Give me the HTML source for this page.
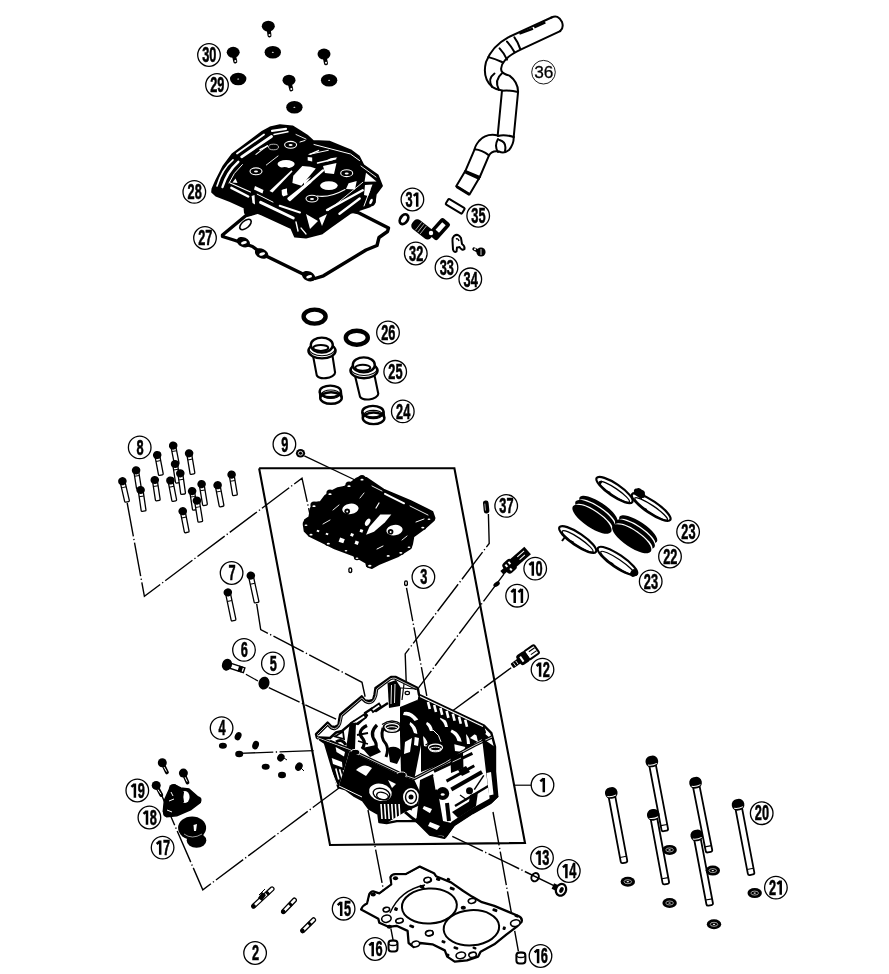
<!DOCTYPE html>
<html><head><meta charset="utf-8"><style>
html,body{margin:0;padding:0;background:#fff;width:889px;height:974px;overflow:hidden}
svg{display:block;filter:grayscale(1)}
</style></head><body>
<svg width="889" height="974" viewBox="0 0 889 974">
<circle cx="209" cy="55" r="11.3" fill="#fff" stroke="#000" stroke-width="1.3"/>
<text x="0" y="0" transform="translate(205.70,62.2) scale(0.6,1)" text-anchor="middle" font-family="Liberation Sans" font-weight="bold" font-size="21.3" stroke="#000" stroke-width="0.55">3</text>
<text x="0" y="0" transform="translate(212.90,62.2) scale(0.6,1)" text-anchor="middle" font-family="Liberation Sans" font-weight="bold" font-size="21.3" stroke="#000" stroke-width="0.55">0</text>
<circle cx="217" cy="85" r="11.3" fill="#fff" stroke="#000" stroke-width="1.3"/>
<text x="0" y="0" transform="translate(213.70,92.2) scale(0.6,1)" text-anchor="middle" font-family="Liberation Sans" font-weight="bold" font-size="21.3" stroke="#000" stroke-width="0.55">2</text>
<text x="0" y="0" transform="translate(220.90,92.2) scale(0.6,1)" text-anchor="middle" font-family="Liberation Sans" font-weight="bold" font-size="21.3" stroke="#000" stroke-width="0.55">9</text>
<circle cx="194.3" cy="191.9" r="11.3" fill="#fff" stroke="#000" stroke-width="1.3"/>
<text x="0" y="0" transform="translate(191.00,199.1) scale(0.6,1)" text-anchor="middle" font-family="Liberation Sans" font-weight="bold" font-size="21.3" stroke="#000" stroke-width="0.55">2</text>
<text x="0" y="0" transform="translate(198.20,199.1) scale(0.6,1)" text-anchor="middle" font-family="Liberation Sans" font-weight="bold" font-size="21.3" stroke="#000" stroke-width="0.55">8</text>
<circle cx="205" cy="238" r="11.3" fill="#fff" stroke="#000" stroke-width="1.3"/>
<text x="0" y="0" transform="translate(201.70,245.2) scale(0.6,1)" text-anchor="middle" font-family="Liberation Sans" font-weight="bold" font-size="21.3" stroke="#000" stroke-width="0.55">2</text>
<text x="0" y="0" transform="translate(208.90,245.2) scale(0.6,1)" text-anchor="middle" font-family="Liberation Sans" font-weight="bold" font-size="21.3" stroke="#000" stroke-width="0.55">7</text>
<circle cx="412.4" cy="199.5" r="11.3" fill="#fff" stroke="#000" stroke-width="1.3"/>
<text x="0" y="0" transform="translate(409.10,206.7) scale(0.6,1)" text-anchor="middle" font-family="Liberation Sans" font-weight="bold" font-size="21.3" stroke="#000" stroke-width="0.55">3</text>
<path d="M417.20,192.50 L417.20,206.70 M413.70,195.90 L416.90,193.10" fill="none" stroke="#000" stroke-width="2.5" stroke-linecap="butt"/>
<circle cx="415.8" cy="253.5" r="11.3" fill="#fff" stroke="#000" stroke-width="1.3"/>
<text x="0" y="0" transform="translate(412.50,260.7) scale(0.6,1)" text-anchor="middle" font-family="Liberation Sans" font-weight="bold" font-size="21.3" stroke="#000" stroke-width="0.55">3</text>
<text x="0" y="0" transform="translate(419.70,260.7) scale(0.6,1)" text-anchor="middle" font-family="Liberation Sans" font-weight="bold" font-size="21.3" stroke="#000" stroke-width="0.55">2</text>
<circle cx="446.5" cy="267.5" r="11.3" fill="#fff" stroke="#000" stroke-width="1.3"/>
<text x="0" y="0" transform="translate(443.20,274.7) scale(0.6,1)" text-anchor="middle" font-family="Liberation Sans" font-weight="bold" font-size="21.3" stroke="#000" stroke-width="0.55">3</text>
<text x="0" y="0" transform="translate(450.40,274.7) scale(0.6,1)" text-anchor="middle" font-family="Liberation Sans" font-weight="bold" font-size="21.3" stroke="#000" stroke-width="0.55">3</text>
<circle cx="470.3" cy="279.3" r="11.3" fill="#fff" stroke="#000" stroke-width="1.3"/>
<text x="0" y="0" transform="translate(467.00,286.5) scale(0.6,1)" text-anchor="middle" font-family="Liberation Sans" font-weight="bold" font-size="21.3" stroke="#000" stroke-width="0.55">3</text>
<text x="0" y="0" transform="translate(474.20,286.5) scale(0.6,1)" text-anchor="middle" font-family="Liberation Sans" font-weight="bold" font-size="21.3" stroke="#000" stroke-width="0.55">4</text>
<circle cx="478.2" cy="215.8" r="11.3" fill="#fff" stroke="#000" stroke-width="1.3"/>
<text x="0" y="0" transform="translate(474.90,223.0) scale(0.6,1)" text-anchor="middle" font-family="Liberation Sans" font-weight="bold" font-size="21.3" stroke="#000" stroke-width="0.55">3</text>
<text x="0" y="0" transform="translate(482.10,223.0) scale(0.6,1)" text-anchor="middle" font-family="Liberation Sans" font-weight="bold" font-size="21.3" stroke="#000" stroke-width="0.55">5</text>
<circle cx="388" cy="332.5" r="11.3" fill="#fff" stroke="#000" stroke-width="1.3"/>
<text x="0" y="0" transform="translate(384.70,339.7) scale(0.6,1)" text-anchor="middle" font-family="Liberation Sans" font-weight="bold" font-size="21.3" stroke="#000" stroke-width="0.55">2</text>
<text x="0" y="0" transform="translate(391.90,339.7) scale(0.6,1)" text-anchor="middle" font-family="Liberation Sans" font-weight="bold" font-size="21.3" stroke="#000" stroke-width="0.55">6</text>
<circle cx="395.2" cy="371.8" r="11.3" fill="#fff" stroke="#000" stroke-width="1.3"/>
<text x="0" y="0" transform="translate(391.90,379.0) scale(0.6,1)" text-anchor="middle" font-family="Liberation Sans" font-weight="bold" font-size="21.3" stroke="#000" stroke-width="0.55">2</text>
<text x="0" y="0" transform="translate(399.10,379.0) scale(0.6,1)" text-anchor="middle" font-family="Liberation Sans" font-weight="bold" font-size="21.3" stroke="#000" stroke-width="0.55">5</text>
<circle cx="402.8" cy="411.4" r="11.3" fill="#fff" stroke="#000" stroke-width="1.3"/>
<text x="0" y="0" transform="translate(399.50,418.6) scale(0.6,1)" text-anchor="middle" font-family="Liberation Sans" font-weight="bold" font-size="21.3" stroke="#000" stroke-width="0.55">2</text>
<text x="0" y="0" transform="translate(406.70,418.6) scale(0.6,1)" text-anchor="middle" font-family="Liberation Sans" font-weight="bold" font-size="21.3" stroke="#000" stroke-width="0.55">4</text>
<circle cx="139.7" cy="447.4" r="11.3" fill="#fff" stroke="#000" stroke-width="1.3"/>
<text x="0" y="0" transform="translate(140.10,454.6) scale(0.6,1)" text-anchor="middle" font-family="Liberation Sans" font-weight="bold" font-size="21.3" stroke="#000" stroke-width="0.55">8</text>
<circle cx="284.4" cy="444.3" r="11.3" fill="#fff" stroke="#000" stroke-width="1.3"/>
<text x="0" y="0" transform="translate(284.80,451.5) scale(0.6,1)" text-anchor="middle" font-family="Liberation Sans" font-weight="bold" font-size="21.3" stroke="#000" stroke-width="0.55">9</text>
<circle cx="506.2" cy="505.9" r="11.3" fill="#fff" stroke="#000" stroke-width="1.3"/>
<text x="0" y="0" transform="translate(502.90,513.1) scale(0.6,1)" text-anchor="middle" font-family="Liberation Sans" font-weight="bold" font-size="21.3" stroke="#000" stroke-width="0.55">3</text>
<text x="0" y="0" transform="translate(510.10,513.1) scale(0.6,1)" text-anchor="middle" font-family="Liberation Sans" font-weight="bold" font-size="21.3" stroke="#000" stroke-width="0.55">7</text>
<circle cx="688.1" cy="531.7" r="11.3" fill="#fff" stroke="#000" stroke-width="1.3"/>
<text x="0" y="0" transform="translate(684.80,538.9) scale(0.6,1)" text-anchor="middle" font-family="Liberation Sans" font-weight="bold" font-size="21.3" stroke="#000" stroke-width="0.55">2</text>
<text x="0" y="0" transform="translate(692.00,538.9) scale(0.6,1)" text-anchor="middle" font-family="Liberation Sans" font-weight="bold" font-size="21.3" stroke="#000" stroke-width="0.55">3</text>
<circle cx="670" cy="556.5" r="11.3" fill="#fff" stroke="#000" stroke-width="1.3"/>
<text x="0" y="0" transform="translate(666.70,563.7) scale(0.6,1)" text-anchor="middle" font-family="Liberation Sans" font-weight="bold" font-size="21.3" stroke="#000" stroke-width="0.55">2</text>
<text x="0" y="0" transform="translate(673.90,563.7) scale(0.6,1)" text-anchor="middle" font-family="Liberation Sans" font-weight="bold" font-size="21.3" stroke="#000" stroke-width="0.55">2</text>
<circle cx="650.7" cy="581.4" r="11.3" fill="#fff" stroke="#000" stroke-width="1.3"/>
<text x="0" y="0" transform="translate(647.40,588.6) scale(0.6,1)" text-anchor="middle" font-family="Liberation Sans" font-weight="bold" font-size="21.3" stroke="#000" stroke-width="0.55">2</text>
<text x="0" y="0" transform="translate(654.60,588.6) scale(0.6,1)" text-anchor="middle" font-family="Liberation Sans" font-weight="bold" font-size="21.3" stroke="#000" stroke-width="0.55">3</text>
<circle cx="535.2" cy="568.6" r="11.3" fill="#fff" stroke="#000" stroke-width="1.3"/>
<path d="M532.80,561.60 L532.80,575.80 M529.30,565.00 L532.50,562.20" fill="none" stroke="#000" stroke-width="2.5" stroke-linecap="butt"/>
<text x="0" y="0" transform="translate(539.10,575.8) scale(0.6,1)" text-anchor="middle" font-family="Liberation Sans" font-weight="bold" font-size="21.3" stroke="#000" stroke-width="0.55">0</text>
<circle cx="517.1" cy="595.7" r="11.3" fill="#fff" stroke="#000" stroke-width="1.3"/>
<path d="M514.70,588.70 L514.70,602.90 M511.20,592.10 L514.40,589.30" fill="none" stroke="#000" stroke-width="2.5" stroke-linecap="butt"/>
<path d="M521.90,588.70 L521.90,602.90 M518.40,592.10 L521.60,589.30" fill="none" stroke="#000" stroke-width="2.5" stroke-linecap="butt"/>
<circle cx="231.6" cy="573" r="11.3" fill="#fff" stroke="#000" stroke-width="1.3"/>
<text x="0" y="0" transform="translate(232.00,580.2) scale(0.6,1)" text-anchor="middle" font-family="Liberation Sans" font-weight="bold" font-size="21.3" stroke="#000" stroke-width="0.55">7</text>
<circle cx="423.4" cy="577" r="11.3" fill="#fff" stroke="#000" stroke-width="1.3"/>
<text x="0" y="0" transform="translate(423.80,584.2) scale(0.6,1)" text-anchor="middle" font-family="Liberation Sans" font-weight="bold" font-size="21.3" stroke="#000" stroke-width="0.55">3</text>
<circle cx="542.5" cy="669.6" r="11.3" fill="#fff" stroke="#000" stroke-width="1.3"/>
<path d="M540.10,662.60 L540.10,676.80 M536.60,666.00 L539.80,663.20" fill="none" stroke="#000" stroke-width="2.5" stroke-linecap="butt"/>
<text x="0" y="0" transform="translate(546.40,676.8) scale(0.6,1)" text-anchor="middle" font-family="Liberation Sans" font-weight="bold" font-size="21.3" stroke="#000" stroke-width="0.55">2</text>
<circle cx="244" cy="649.9" r="11.3" fill="#fff" stroke="#000" stroke-width="1.3"/>
<text x="0" y="0" transform="translate(244.40,657.1) scale(0.6,1)" text-anchor="middle" font-family="Liberation Sans" font-weight="bold" font-size="21.3" stroke="#000" stroke-width="0.55">6</text>
<circle cx="272.9" cy="663.4" r="11.3" fill="#fff" stroke="#000" stroke-width="1.3"/>
<text x="0" y="0" transform="translate(273.30,670.6) scale(0.6,1)" text-anchor="middle" font-family="Liberation Sans" font-weight="bold" font-size="21.3" stroke="#000" stroke-width="0.55">5</text>
<circle cx="221.6" cy="728.1" r="11.3" fill="#fff" stroke="#000" stroke-width="1.3"/>
<text x="0" y="0" transform="translate(222.00,735.3) scale(0.6,1)" text-anchor="middle" font-family="Liberation Sans" font-weight="bold" font-size="21.3" stroke="#000" stroke-width="0.55">4</text>
<circle cx="542.5" cy="785" r="11.3" fill="#fff" stroke="#000" stroke-width="1.3"/>
<path d="M543.80,778.00 L543.80,792.20 M540.30,781.40 L543.50,778.60" fill="none" stroke="#000" stroke-width="2.5" stroke-linecap="butt"/>
<circle cx="137.3" cy="790.5" r="11.3" fill="#fff" stroke="#000" stroke-width="1.3"/>
<path d="M134.90,783.50 L134.90,797.70 M131.40,786.90 L134.60,784.10" fill="none" stroke="#000" stroke-width="2.5" stroke-linecap="butt"/>
<text x="0" y="0" transform="translate(141.20,797.7) scale(0.6,1)" text-anchor="middle" font-family="Liberation Sans" font-weight="bold" font-size="21.3" stroke="#000" stroke-width="0.55">9</text>
<circle cx="149.4" cy="817.5" r="11.3" fill="#fff" stroke="#000" stroke-width="1.3"/>
<path d="M147.00,810.50 L147.00,824.70 M143.50,813.90 L146.70,811.10" fill="none" stroke="#000" stroke-width="2.5" stroke-linecap="butt"/>
<text x="0" y="0" transform="translate(153.30,824.7) scale(0.6,1)" text-anchor="middle" font-family="Liberation Sans" font-weight="bold" font-size="21.3" stroke="#000" stroke-width="0.55">8</text>
<circle cx="162.6" cy="847.6" r="11.3" fill="#fff" stroke="#000" stroke-width="1.3"/>
<path d="M160.20,840.60 L160.20,854.80 M156.70,844.00 L159.90,841.20" fill="none" stroke="#000" stroke-width="2.5" stroke-linecap="butt"/>
<text x="0" y="0" transform="translate(166.50,854.8) scale(0.6,1)" text-anchor="middle" font-family="Liberation Sans" font-weight="bold" font-size="21.3" stroke="#000" stroke-width="0.55">7</text>
<circle cx="761.7" cy="813.2" r="11.3" fill="#fff" stroke="#000" stroke-width="1.3"/>
<text x="0" y="0" transform="translate(758.40,820.4) scale(0.6,1)" text-anchor="middle" font-family="Liberation Sans" font-weight="bold" font-size="21.3" stroke="#000" stroke-width="0.55">2</text>
<text x="0" y="0" transform="translate(765.60,820.4) scale(0.6,1)" text-anchor="middle" font-family="Liberation Sans" font-weight="bold" font-size="21.3" stroke="#000" stroke-width="0.55">0</text>
<circle cx="775.9" cy="887.6" r="11.3" fill="#fff" stroke="#000" stroke-width="1.3"/>
<text x="0" y="0" transform="translate(772.60,894.8) scale(0.6,1)" text-anchor="middle" font-family="Liberation Sans" font-weight="bold" font-size="21.3" stroke="#000" stroke-width="0.55">2</text>
<path d="M780.70,880.60 L780.70,894.80 M777.20,884.00 L780.40,881.20" fill="none" stroke="#000" stroke-width="2.5" stroke-linecap="butt"/>
<circle cx="542" cy="857.7" r="11.3" fill="#fff" stroke="#000" stroke-width="1.3"/>
<path d="M539.60,850.70 L539.60,864.90 M536.10,854.10 L539.30,851.30" fill="none" stroke="#000" stroke-width="2.5" stroke-linecap="butt"/>
<text x="0" y="0" transform="translate(545.90,864.9) scale(0.6,1)" text-anchor="middle" font-family="Liberation Sans" font-weight="bold" font-size="21.3" stroke="#000" stroke-width="0.55">3</text>
<circle cx="568.8" cy="871" r="11.3" fill="#fff" stroke="#000" stroke-width="1.3"/>
<path d="M566.40,864.00 L566.40,878.20 M562.90,867.40 L566.10,864.60" fill="none" stroke="#000" stroke-width="2.5" stroke-linecap="butt"/>
<text x="0" y="0" transform="translate(572.70,878.2) scale(0.6,1)" text-anchor="middle" font-family="Liberation Sans" font-weight="bold" font-size="21.3" stroke="#000" stroke-width="0.55">4</text>
<circle cx="343.6" cy="908.7" r="11.3" fill="#fff" stroke="#000" stroke-width="1.3"/>
<path d="M341.20,901.70 L341.20,915.90 M337.70,905.10 L340.90,902.30" fill="none" stroke="#000" stroke-width="2.5" stroke-linecap="butt"/>
<text x="0" y="0" transform="translate(347.50,915.9) scale(0.6,1)" text-anchor="middle" font-family="Liberation Sans" font-weight="bold" font-size="21.3" stroke="#000" stroke-width="0.55">5</text>
<circle cx="255.1" cy="953" r="11.3" fill="#fff" stroke="#000" stroke-width="1.3"/>
<text x="0" y="0" transform="translate(255.50,960.2) scale(0.6,1)" text-anchor="middle" font-family="Liberation Sans" font-weight="bold" font-size="21.3" stroke="#000" stroke-width="0.55">2</text>
<circle cx="375.1" cy="949" r="11.3" fill="#fff" stroke="#000" stroke-width="1.3"/>
<path d="M372.70,942.00 L372.70,956.20 M369.20,945.40 L372.40,942.60" fill="none" stroke="#000" stroke-width="2.5" stroke-linecap="butt"/>
<text x="0" y="0" transform="translate(379.00,956.2) scale(0.6,1)" text-anchor="middle" font-family="Liberation Sans" font-weight="bold" font-size="21.3" stroke="#000" stroke-width="0.55">6</text>
<circle cx="540.5" cy="956" r="11.3" fill="#fff" stroke="#000" stroke-width="1.3"/>
<path d="M538.10,949.00 L538.10,963.20 M534.60,952.40 L537.80,949.60" fill="none" stroke="#000" stroke-width="2.5" stroke-linecap="butt"/>
<text x="0" y="0" transform="translate(544.40,963.2) scale(0.6,1)" text-anchor="middle" font-family="Liberation Sans" font-weight="bold" font-size="21.3" stroke="#000" stroke-width="0.55">6</text>
<circle cx="543.5" cy="72.2" r="11.8" fill="#fff" stroke="#000" stroke-width="0.9"/>
<text x="543.8" y="77.8" text-anchor="middle" font-family="Liberation Sans" font-size="16" stroke="#000" stroke-width="0.25" transform="translate(543.8 0) scale(1.08 1) translate(-543.8 0)">36</text>
<polyline points="259.1,468.3 454.4,468.3 525.0,843.0 330.0,845.0 259.1,468.3" fill="none" stroke="#000" stroke-width="2.1"/>
<polyline points="127.2,503.0 144.4,596.3 302.0,478.2 310.8,518.0" fill="none" stroke="#000" stroke-width="1.4" stroke-dasharray="34,2.5,1.3,2.5"/>
<polyline points="304.3,455.9 356.1,480.5" fill="none" stroke="#000" stroke-width="1.3"/>
<polyline points="256.7,604.0 260.7,629.6 362.0,682.3 365.2,697.1" fill="none" stroke="#000" stroke-width="1.4" stroke-dasharray="34,2.5,1.3,2.5"/>
<polyline points="245.9,674.2 258.0,681.0" fill="none" stroke="#000" stroke-width="1.3"/>
<polyline points="268.8,687.7 337.7,720.0" fill="none" stroke="#000" stroke-width="1.4" stroke-dasharray="34,2.5,1.3,2.5"/>
<polyline points="406.5,587.8 426.8,695.8" fill="none" stroke="#000" stroke-width="1.4" stroke-dasharray="34,2.5,1.3,2.5"/>
<polyline points="488.4,514.1 489.2,543.4 405.2,653.9 406.5,690.4" fill="none" stroke="#000" stroke-width="1.4" stroke-dasharray="34,2.5,1.3,2.5"/>
<polyline points="503.9,574.1 418.7,687.7" fill="none" stroke="#000" stroke-width="1.4" stroke-dasharray="34,2.5,1.3,2.5"/>
<polyline points="511.2,667.7 453.0,710.5" fill="none" stroke="#000" stroke-width="1.4" stroke-dasharray="34,2.5,1.3,2.5"/>
<polyline points="239.3,753.4 315.2,750.6" fill="none" stroke="#000" stroke-width="1.4" stroke-dasharray="34,2.5,1.3,2.5"/>
<polyline points="340.0,787.2 202.8,889.8 160.6,792.8" fill="none" stroke="#000" stroke-width="1.4" stroke-dasharray="34,2.5,1.3,2.5"/>
<polyline points="452.3,836.3 559.4,888.3" fill="none" stroke="#000" stroke-width="1.4" stroke-dasharray="34,2.5,1.3,2.5"/>
<polyline points="368.0,810.0 393.1,940.2" fill="none" stroke="#000" stroke-width="1.4" stroke-dasharray="34,2.5,1.3,2.5"/>
<polyline points="493.0,812.0 518.4,951.3" fill="none" stroke="#000" stroke-width="1.4" stroke-dasharray="34,2.5,1.3,2.5"/>
<ellipse cx="268.3" cy="26.2" rx="6.5" ry="5.5" fill="#000"/>
<line x1="268.3" y1="26.2" x2="269.5" y2="35.5" stroke="#000" stroke-width="4" stroke-linecap="round"/>
<circle cx="269.5" cy="35.0" r="1" fill="#fff"/>
<ellipse cx="233.2" cy="52.3" rx="6.5" ry="5.5" fill="#000"/>
<line x1="233.2" y1="52.3" x2="235.3" y2="61.5" stroke="#000" stroke-width="4" stroke-linecap="round"/>
<circle cx="235.3" cy="61.0" r="1" fill="#fff"/>
<ellipse cx="324" cy="54.1" rx="6.5" ry="5.5" fill="#000"/>
<line x1="324" y1="54.1" x2="326" y2="63.3" stroke="#000" stroke-width="4" stroke-linecap="round"/>
<circle cx="326" cy="62.8" r="1" fill="#fff"/>
<ellipse cx="289" cy="80.2" rx="6.5" ry="5.5" fill="#000"/>
<line x1="289" y1="80.2" x2="291.3" y2="89.4" stroke="#000" stroke-width="4" stroke-linecap="round"/>
<circle cx="291.3" cy="88.9" r="1" fill="#fff"/>
<ellipse cx="272.8" cy="52.3" rx="8.2" ry="6.3" fill="#000"/><ellipse cx="272.8" cy="52.3" rx="1" ry="0.5" fill="#fff"/>
<ellipse cx="238.2" cy="79" rx="8.2" ry="6.3" fill="#000"/><ellipse cx="238.2" cy="79" rx="1" ry="0.5" fill="#fff"/>
<ellipse cx="329.1" cy="80.2" rx="8.2" ry="6.3" fill="#000"/><ellipse cx="329.1" cy="80.2" rx="1" ry="0.5" fill="#fff"/>
<ellipse cx="294.4" cy="107.2" rx="8.2" ry="6.3" fill="#000"/><ellipse cx="294.4" cy="107.2" rx="1" ry="0.5" fill="#fff"/>
<path d="M222.5,235 L246,215.5 L300,200 L358,212.5 L388.5,228 L387.5,231.5 L379,237.5 L377,245.5 L366,250 L323.5,275.8 L315,278.5 L306,275.5 L264,255 L252.5,246.5 L235.3,240.5 L222.5,236.5 Z" fill="none" stroke="#000" stroke-width="3.4" stroke-linejoin="round" stroke-linecap="round"/>
<ellipse cx="243.4" cy="242.2" rx="7" ry="4.8" transform="rotate(25 243.4 242.2)" fill="#000"/>
<ellipse cx="243.8" cy="242.79999999999998" rx="3" ry="1.5" transform="rotate(-15 243.4 242.2)" fill="#fff"/>
<ellipse cx="261.6" cy="253.5" rx="7" ry="4.8" transform="rotate(25 261.6 253.5)" fill="#000"/>
<ellipse cx="262.0" cy="254.1" rx="3" ry="1.5" transform="rotate(-15 261.6 253.5)" fill="#fff"/>
<ellipse cx="308.6" cy="276.2" rx="7" ry="4.8" transform="rotate(25 308.6 276.2)" fill="#000"/>
<ellipse cx="309.0" cy="276.8" rx="3" ry="1.5" transform="rotate(-15 308.6 276.2)" fill="#fff"/>
<ellipse cx="245.5" cy="224.5" rx="6.8" ry="3.6" transform="rotate(-40 245.5 224.5)" fill="none" stroke="#000" stroke-width="1.6"/>
<polygon points="262.6,131.6 270,127.5 279.9,125.2 292.4,126.4 300,131 307,135.5 313,141 329.9,141.8 350.7,150.4 359,156.6 363.2,165 377.7,175.4 381.9,185.8 375.7,194.1 374.6,202.4 369.4,206.6 350.7,212.8 329.9,227.4 321.5,233.6 306,237.5 295,236.5 291.3,228 262,214.5 252.7,211 251,214.5 245,213 244.5,207.5 230.2,201 216,195.5 212.2,192 212.5,188.8 216.1,180.7 223.2,166.6 232.3,154.4" fill="#000" stroke="#000" stroke-width="2" stroke-linejoin="round"/>
<path d="M237,153.5 L264,134.5" fill="none" stroke="#fff" stroke-width="1.8" stroke-linecap="round"/>
<path d="M241.7,156.8 L271.5,136.5" fill="none" stroke="#fff" stroke-width="2.8" stroke-linecap="round"/>
<path d="M256,154.4 L267.4,145.6" fill="none" stroke="#fff" stroke-width="1.2" stroke-linecap="round"/>
<path d="M260,149.7 L267.2,146.1" fill="none" stroke="#fff" stroke-width="1.4" stroke-linecap="round"/>
<path d="M217,186 Q222,169 233,159.8" fill="none" stroke="#fff" stroke-width="1.6" stroke-linecap="round"/>
<path d="M222.5,187 Q227,172 238.3,161.8" fill="none" stroke="#fff" stroke-width="2.4" stroke-linecap="round"/>
<path d="M229,183 Q233,173 242.4,164.5" fill="none" stroke="#fff" stroke-width="1.0" stroke-linecap="round"/>
<path d="M272,130.8 L286,128.8" fill="none" stroke="#fff" stroke-width="2.2" stroke-linecap="round"/>
<path d="M274,134.5 L288,131.8" fill="none" stroke="#fff" stroke-width="1.4" stroke-linecap="round"/>
<ellipse cx="256" cy="171.3" rx="6" ry="3.4" fill="none" stroke="#fff" stroke-width="1.1"/>
<ellipse cx="256" cy="171.60000000000002" rx="2" ry="1" fill="#fff"/>
<ellipse cx="290.6" cy="144.8" rx="6" ry="3.4" fill="none" stroke="#fff" stroke-width="1.1"/>
<ellipse cx="290.6" cy="145.10000000000002" rx="2" ry="1" fill="#fff"/>
<ellipse cx="312" cy="198.6" rx="6" ry="3.4" fill="none" stroke="#fff" stroke-width="1.1"/>
<ellipse cx="312" cy="198.9" rx="2" ry="1" fill="#fff"/>
<ellipse cx="346.7" cy="173.2" rx="6" ry="3.4" fill="none" stroke="#fff" stroke-width="1.1"/>
<ellipse cx="346.7" cy="173.5" rx="2" ry="1" fill="#fff"/>
<ellipse cx="273.5" cy="147" rx="5" ry="2.8" fill="none" stroke="#fff" stroke-width="0.7"/>
<ellipse cx="286.1" cy="164.1" rx="8.6" ry="4.2" fill="#fff"/>
<path d="M280,168.5 Q284,165.5 289,168.3 L290,169.5 L279,169.5 Z" fill="#000"/>
<ellipse cx="328.9" cy="185.6" rx="8.8" ry="4.4" fill="#fff"/>
<path d="M317,196 Q330,198 345,189.5" fill="none" stroke="#fff" stroke-width="1.1" stroke-linecap="round"/>
<path d="M266.3,165 L278,156" fill="none" stroke="#fff" stroke-width="0.9" stroke-linecap="round"/>
<path d="M293.3,175.8 L302.3,165.9 L310.4,166.8 L315.8,168.6 L301.4,185.7 L292.4,183 Z" fill="#fff" stroke="none"/>
<path d="M269.5,191 L291.5,170.2 L292.5,171.5 L272.5,192.5 Z" fill="#fff" stroke="none"/>
<path d="M289.7,200 L323,170.4" fill="none" stroke="#fff" stroke-width="2.4" stroke-linecap="round"/>
<path d="M317.6,163 L335.6,158.7" fill="none" stroke="#fff" stroke-width="1.6" stroke-linecap="round"/>
<path d="M307.7,156.9 L312.2,157.5 L312.2,161.4 L307.7,160.5 Z" fill="#fff" stroke="none"/>
<path d="M310.4,154.2 L318.5,150.6" fill="none" stroke="#fff" stroke-width="1.4" stroke-linecap="round"/>
<path d="M323,166 L336.5,163 L334,174 L325,173 Z" fill="#fff" stroke="none"/>
<path d="M281.6,190 L287,188.4 L287,194.7 L282,195.5 Z" fill="#fff" stroke="none"/>
<path d="M300,142 L305,140.5" fill="none" stroke="#fff" stroke-width="1.0" stroke-linecap="round"/>
<path d="M314,144.5 L350.5,154 L359.5,160.5" fill="none" stroke="#fff" stroke-width="1.0" stroke-linecap="round"/>
<path d="M296,134.5 L306,139" fill="none" stroke="#fff" stroke-width="0.9" stroke-linecap="round"/>
<path d="M361,166 L376,177" fill="none" stroke="#fff" stroke-width="0.9" stroke-linecap="round"/>
<path d="M230.2,183 L250.5,192" fill="none" stroke="#fff" stroke-width="1.1" stroke-linecap="round"/>
<path d="M231.4,187.8 L248.2,196.5" fill="none" stroke="#fff" stroke-width="2.5" stroke-linecap="round"/>
<path d="M255,186 L263.5,190 L262.5,193.5 L254,189.5 Z" fill="#fff" stroke="none"/>
<path d="M260.6,202.3 L293.2,218" fill="none" stroke="#fff" stroke-width="3.0" stroke-linecap="round"/>
<path d="M257.2,194.2 L273,202.1" fill="none" stroke="#fff" stroke-width="1.0" stroke-linecap="round"/>
<path d="M279.7,205.8 L300,212.5" fill="none" stroke="#fff" stroke-width="2.0" stroke-linecap="round"/>
<path d="M232.5,182.5 L235.5,178.5 L237.5,183 Z" fill="#fff" stroke="none"/>
<path d="M251.6,196 L254.5,195 L255,204.4 L252.5,203 Z" fill="#fff" stroke="none"/>
<path d="M282,190 L286.5,188.5 L287.6,195 L283,196.5 Z" fill="#fff" stroke="none"/>
<path d="M288.7,198.7 L310,181.9" fill="none" stroke="#fff" stroke-width="2.8" stroke-linecap="round"/>
<path d="M304,181 L311,177 L304,186 Z" fill="#fff" stroke="none"/>
<path d="M327,210 L362.7,190.3" fill="none" stroke="#fff" stroke-width="2.4" stroke-linecap="round"/>
<path d="M328.3,210.6 L362.8,182.3" fill="none" stroke="#fff" stroke-width="0.9" stroke-linecap="round"/>
<path d="M339.5,213.7 L359.7,198.5" fill="none" stroke="#fff" stroke-width="2.4" stroke-linecap="round"/>
<path d="M348.6,183.3 L356.7,181 L355,189.4 L346,189 Z" fill="#fff" stroke="none"/>
<path d="M366,172.8 L376.5,181.5 L364.5,181.8 Z" fill="#fff" stroke="none"/>
<path d="M365,185 L372.5,184.5 L368,196 L364,195 Z" fill="#fff" stroke="none"/>
<path d="M326.3,160.5 Q331,157 337.4,157.5 Q333,161 327,161.5 Z" fill="#fff" stroke="none"/>
<path d="M309,154.4 L328.3,150.3" fill="none" stroke="#fff" stroke-width="1.0" stroke-linecap="round"/>
<path d="M370,190 L364,206" fill="none" stroke="#fff" stroke-width="1.0" stroke-linecap="round"/>
<path d="M306,214 L318,221 L310,229 Z" fill="#fff" stroke="none"/>
<path d="M319,218 L327,214 L322,226 Z" fill="#fff" stroke="none"/>
<path d="M301,228 L306,234" fill="none" stroke="#fff" stroke-width="1.2" stroke-linecap="round"/>
<path d="M296,222 L298,231" fill="none" stroke="#fff" stroke-width="1.4" stroke-linecap="round"/>
<ellipse cx="371.5" cy="201" rx="4.2" ry="5.3" fill="#000"/>
<ellipse cx="371" cy="201.5" rx="1.4" ry="3" transform="rotate(25 371 201.5)" fill="#fff"/>
<path d="M551.5,17.5 L508.2,37.3 Q492,46 486,62 Q482,78 492.1,86.8 L502,90.5 L497.7,135.4 Q486,134 480.8,139 Q476,143 474.6,149.3 L465.4,170.8 L456.2,186.2 L469.5,194.5 L479.8,177 L489,155.4 Q496,151 499,146 Q508,154 513.7,137 L518.1,91.7 Q518,83 509.5,75.6 L502,73.2 Q499,66 504.5,60.8 Q512,53 520.6,49.7 L560.2,31.1 Q566,24 557,17 Z" fill="#fff" stroke="none"/>
<path d="M551.5,17.5 L508.2,37.3 Q492,46 486,62 Q482,78 492.1,86.8 Q497,90 502,90.5 L497.7,135.4" fill="none" stroke="#000" stroke-width="2" stroke-linecap="round" stroke-linejoin="round"/>
<path d="M560.2,31.1 L520.6,49.7 Q509,55 504.5,60.8 Q500,66 501.5,71 Q503,74 509.5,75.6 Q518,82 518.1,91.7 L513.7,137" fill="none" stroke="#000" stroke-width="2" stroke-linecap="round" stroke-linejoin="round"/>
<path d="M551.5,17.5 Q558,14 562,22 Q564,28 560.2,31.1" fill="none" stroke="#000" stroke-width="2" stroke-linecap="round" stroke-linejoin="round"/>
<path d="M497.7,135.4 Q486,133 479,141 Q475,146 474.6,149.3 L465.4,170.8 L456.2,186.2 L469.5,194.5 L479.8,177 L489,155.4 Q492,150 499,151.5 Q504,154 509,150 Q514,144 513.7,137" fill="none" stroke="#000" stroke-width="2" stroke-linecap="round" stroke-linejoin="round"/>
<path d="M498,136 Q504,134 513.7,137 M499.5,140 Q507,142 505,151 M498,139 Q494,146 498,152" fill="none" stroke="#000" stroke-width="2" stroke-linecap="round" stroke-linejoin="round" stroke-width="1.6"/>
<path d="M474.6,149.3 Q482,150 489,155.4 M465.4,170.8 L479.8,177 M465.9,172.8 L479,178.8" fill="none" stroke="#000" stroke-width="2" stroke-linecap="round" stroke-linejoin="round" stroke-width="1.6"/>
<path d="M456.5,186.5 L469.5,194.5" stroke="#000" stroke-width="3"/>
<path d="M488.4,57.1 Q496,59 502,62 M499.6,48.4 Q504,53 507,59.6 M507,41.6 Q511,46 514.4,52.1 M514.4,37.3 Q518,42 520,48.4" fill="none" stroke="#000" stroke-width="2" stroke-linecap="round" stroke-linejoin="round" stroke-width="1.6"/>
<path d="M494.5,73.5 Q487,79 492.2,87 M502,73.2 Q494,80 498.8,89.8" fill="none" stroke="#000" stroke-width="2" stroke-linecap="round" stroke-linejoin="round" stroke-width="1.6"/>
<path d="M502,90.8 Q510,90 518,92" fill="none" stroke="#000" stroke-width="2" stroke-linecap="round" stroke-linejoin="round" stroke-width="1.4"/>
<path d="M519.4,33.6 L533,28.6 M534.2,27.4 L545.3,22.4" stroke="#000" stroke-width="2.4"/>
<g transform="translate(455.2,206.3) rotate(31)"><rect x="-9.5" y="-3.2" width="19" height="6.4" rx="1" fill="#fff" stroke="#000" stroke-width="2"/></g>
<ellipse cx="404" cy="219.2" rx="3.6" ry="5.4" transform="rotate(35 404 219.2)" fill="none" stroke="#000" stroke-width="2.8"/>
<g transform="translate(413,222) rotate(38)"><rect x="0" y="-5.8" width="24" height="11.6" rx="4.5" fill="#000"/><path d="M7,-5 L7,5 M10,-5 L10,5 M13,-5 L13,5" stroke="#fff" stroke-width="0.6"/></g>
<g transform="translate(434,235) rotate(-48)"><rect x="-3" y="-5.8" width="22" height="11.6" rx="2.5" fill="#000"/><rect x="5" y="-2.4" width="10" height="4.6" fill="#fff"/></g>
<circle cx="431" cy="233" r="2.2" fill="#fff"/>
<path d="M454,236 Q458,233 461,238 L462,244 Q465,246 464.5,249 Q462,251 459.5,247 L457,247.5 L456.5,251.5 Q454,253 453,249.5 L452.5,241 Q452,238 454,236 Z" fill="#fff" stroke="#000" stroke-width="2"/>
<path d="M456,239 Q458,238 459,241" fill="none" stroke="#000" stroke-width="1.5"/>
<circle cx="481" cy="252" r="4.6" fill="#000"/><path d="M477,250.5 L474,249" stroke="#000" stroke-width="3.4" stroke-linecap="round"/><circle cx="475" cy="249.3" r="1" fill="#fff"/><path d="M481,249 L481,255" stroke="#fff" stroke-width="0.8"/>
<ellipse cx="314.6" cy="316.6" rx="11" ry="7" fill="none" stroke="#000" stroke-width="4.4"/>
<ellipse cx="356.8" cy="337.7" rx="11" ry="7" fill="none" stroke="#000" stroke-width="4.4"/>
<path d="M313.2,356.6 L316.6,374.5 A9.3,4.6 -8 0 0 335.1,372.5 L332.40000000000003,355.1" fill="#fff" stroke="#000" stroke-width="2.1"/>
<ellipse cx="322.0" cy="350.8" rx="13.6" ry="7.6" fill="#fff" stroke="#000" stroke-width="2.4"/>
<ellipse cx="322.0" cy="349.1" rx="12.8" ry="6.6" fill="none" stroke="#000" stroke-width="1.1"/>
<ellipse cx="321.8" cy="345.1" rx="11" ry="7.5" fill="#fff" stroke="#000" stroke-width="2.4"/>
<ellipse cx="320.8" cy="347.90000000000003" rx="7.5" ry="3" fill="none" stroke="#000" stroke-width="2"/>
<path d="M355.2,376.4 L359.8,395.8 A9.3,4.6 -8 0 0 378.3,393.8 L374.40000000000003,374.9" fill="#fff" stroke="#000" stroke-width="2.1"/>
<ellipse cx="364.0" cy="370.59999999999997" rx="13.6" ry="7.6" fill="#fff" stroke="#000" stroke-width="2.4"/>
<ellipse cx="364.0" cy="368.9" rx="12.8" ry="6.6" fill="none" stroke="#000" stroke-width="1.1"/>
<ellipse cx="363.8" cy="364.9" rx="11" ry="7.5" fill="#fff" stroke="#000" stroke-width="2.4"/>
<ellipse cx="362.8" cy="367.7" rx="7.5" ry="3" fill="none" stroke="#000" stroke-width="2"/>
<ellipse cx="331.0" cy="398.0" rx="10.8" ry="5.8" fill="none" stroke="#000" stroke-width="2.4"/>
<ellipse cx="330.3" cy="391.4" rx="10.6" ry="5.8" fill="none" stroke="#000" stroke-width="2.4"/>
<path d="M319.8,391.7 L320.3,398.2 M340.90000000000003,391.2 L341.7,397.7" stroke="#000" stroke-width="2.2"/>
<ellipse cx="330.7" cy="394.2" rx="9" ry="4.2" fill="none" stroke="#000" stroke-width="1.2"/>
<ellipse cx="373.59999999999997" cy="418.3" rx="10.8" ry="5.8" fill="none" stroke="#000" stroke-width="2.4"/>
<ellipse cx="372.9" cy="411.7" rx="10.6" ry="5.8" fill="none" stroke="#000" stroke-width="2.4"/>
<path d="M362.4,412 L362.9,418.5 M383.5,411.5 L384.29999999999995,418" stroke="#000" stroke-width="2.2"/>
<ellipse cx="373.29999999999995" cy="414.5" rx="9" ry="4.2" fill="none" stroke="#000" stroke-width="1.2"/>
<g transform="translate(122.4,481.2) rotate(-13.12)"><rect x="-2.4" y="0" width="4.8" height="21.2" rx="1" fill="#fff" stroke="#000" stroke-width="1.3"/><line x1="-2.4" y1="6.3" x2="2.4" y2="6.3" stroke="#000" stroke-width="1"/><ellipse cx="0" cy="0" rx="4.3" ry="4.085" fill="#000"/></g>
<g transform="translate(136.1,470.4) rotate(-8.96)"><rect x="-2.4" y="0" width="4.8" height="18.6" rx="1" fill="#fff" stroke="#000" stroke-width="1.3"/><line x1="-2.4" y1="5.6" x2="2.4" y2="5.6" stroke="#000" stroke-width="1"/><ellipse cx="0" cy="0" rx="4.3" ry="4.085" fill="#000"/></g>
<g transform="translate(140.6,490) rotate(-8.32)"><rect x="-2.4" y="0" width="4.8" height="21.4" rx="1" fill="#fff" stroke="#000" stroke-width="1.3"/><line x1="-2.4" y1="6.4" x2="2.4" y2="6.4" stroke="#000" stroke-width="1"/><ellipse cx="0" cy="0" rx="4.3" ry="4.085" fill="#000"/></g>
<g transform="translate(157.2,455) rotate(-10.71)"><rect x="-2.4" y="0" width="4.8" height="20.5" rx="1" fill="#fff" stroke="#000" stroke-width="1.3"/><line x1="-2.4" y1="6.1" x2="2.4" y2="6.1" stroke="#000" stroke-width="1"/><ellipse cx="0" cy="0" rx="4.3" ry="4.085" fill="#000"/></g>
<g transform="translate(154.8,480) rotate(-8.56)"><rect x="-2.4" y="0" width="4.8" height="20.8" rx="1" fill="#fff" stroke="#000" stroke-width="1.3"/><line x1="-2.4" y1="6.2" x2="2.4" y2="6.2" stroke="#000" stroke-width="1"/><ellipse cx="0" cy="0" rx="4.3" ry="4.085" fill="#000"/></g>
<g transform="translate(173.2,445.6) rotate(-11.07)"><rect x="-2.4" y="0" width="4.8" height="18.7" rx="1" fill="#fff" stroke="#000" stroke-width="1.3"/><line x1="-2.4" y1="5.6" x2="2.4" y2="5.6" stroke="#000" stroke-width="1"/><ellipse cx="0" cy="0" rx="4.3" ry="4.085" fill="#000"/></g>
<g transform="translate(175.1,464) rotate(-8.72)"><rect x="-2.4" y="0" width="4.8" height="19.1" rx="1" fill="#fff" stroke="#000" stroke-width="1.3"/><line x1="-2.4" y1="5.7" x2="2.4" y2="5.7" stroke="#000" stroke-width="1"/><ellipse cx="0" cy="0" rx="4.3" ry="4.085" fill="#000"/></g>
<g transform="translate(170.4,480.5) rotate(-10.99)"><rect x="-2.4" y="0" width="4.8" height="21.0" rx="1" fill="#fff" stroke="#000" stroke-width="1.3"/><line x1="-2.4" y1="6.3" x2="2.4" y2="6.3" stroke="#000" stroke-width="1"/><ellipse cx="0" cy="0" rx="4.3" ry="4.085" fill="#000"/></g>
<g transform="translate(180.3,473.4) rotate(-7.94)"><rect x="-2.4" y="0" width="4.8" height="21.0" rx="1" fill="#fff" stroke="#000" stroke-width="1.3"/><line x1="-2.4" y1="6.3" x2="2.4" y2="6.3" stroke="#000" stroke-width="1"/><ellipse cx="0" cy="0" rx="4.3" ry="4.085" fill="#000"/></g>
<g transform="translate(189.1,453.3) rotate(-9.55)"><rect x="-2.4" y="0" width="4.8" height="21.1" rx="1" fill="#fff" stroke="#000" stroke-width="1.3"/><line x1="-2.4" y1="6.3" x2="2.4" y2="6.3" stroke="#000" stroke-width="1"/><ellipse cx="0" cy="0" rx="4.3" ry="4.085" fill="#000"/></g>
<g transform="translate(192.1,491.1) rotate(-8.72)"><rect x="-2.4" y="0" width="4.8" height="19.1" rx="1" fill="#fff" stroke="#000" stroke-width="1.3"/><line x1="-2.4" y1="5.7" x2="2.4" y2="5.7" stroke="#000" stroke-width="1"/><ellipse cx="0" cy="0" rx="4.3" ry="4.085" fill="#000"/></g>
<g transform="translate(196.9,500.6) rotate(-9.33)"><rect x="-2.4" y="0" width="4.8" height="21.6" rx="1" fill="#fff" stroke="#000" stroke-width="1.3"/><line x1="-2.4" y1="6.5" x2="2.4" y2="6.5" stroke="#000" stroke-width="1"/><ellipse cx="0" cy="0" rx="4.3" ry="4.085" fill="#000"/></g>
<g transform="translate(201.6,484.1) rotate(-9.37)"><rect x="-2.4" y="0" width="4.8" height="21.5" rx="1" fill="#fff" stroke="#000" stroke-width="1.3"/><line x1="-2.4" y1="6.4" x2="2.4" y2="6.4" stroke="#000" stroke-width="1"/><ellipse cx="0" cy="0" rx="4.3" ry="4.085" fill="#000"/></g>
<g transform="translate(182.7,511.2) rotate(-11.15)"><rect x="-2.4" y="0" width="4.8" height="21.7" rx="1" fill="#fff" stroke="#000" stroke-width="1.3"/><line x1="-2.4" y1="6.5" x2="2.4" y2="6.5" stroke="#000" stroke-width="1"/><ellipse cx="0" cy="0" rx="4.3" ry="4.085" fill="#000"/></g>
<g transform="translate(217.6,485.2) rotate(-10.90)"><rect x="-2.4" y="0" width="4.8" height="21.7" rx="1" fill="#fff" stroke="#000" stroke-width="1.3"/><line x1="-2.4" y1="6.5" x2="2.4" y2="6.5" stroke="#000" stroke-width="1"/><ellipse cx="0" cy="0" rx="4.3" ry="4.085" fill="#000"/></g>
<g transform="translate(231.6,474.6) rotate(-9.55)"><rect x="-2.4" y="0" width="4.8" height="21.1" rx="1" fill="#fff" stroke="#000" stroke-width="1.3"/><line x1="-2.4" y1="6.3" x2="2.4" y2="6.3" stroke="#000" stroke-width="1"/><ellipse cx="0" cy="0" rx="4.3" ry="4.085" fill="#000"/></g>
<ellipse cx="300.5" cy="453.3" rx="4.6" ry="4.3" fill="#000"/><ellipse cx="300.5" cy="453.3" rx="2.2" ry="1.9" fill="none" stroke="#fff" stroke-width="0.8"/>
<polygon points="303.9,525.4 305,520 309.4,517 311,508 314.2,503 320.5,502 325,496 331.5,491.3 337.8,488.2 344,487 350.4,483.4 356,479 359.8,477.1 366.1,477.9 383.5,489.7 410.2,500.8 432.3,511.8 434.5,518 433.9,520.1 424.4,528.5 413.4,536.4 412,544 410.2,548.4 397.6,556.3 378.7,564.2 372,568 367,566 366.1,562.6 352,554.7 334.6,548.4 325.2,543.7 309.4,535.8 304.7,531.1" fill="#000" stroke="#000" stroke-width="2" stroke-linejoin="round"/>
<circle cx="311" cy="533.5" r="3.5" fill="#000"/>
<ellipse cx="311" cy="534.7" rx="1.57" ry="0.88" fill="#fff"/>
<circle cx="328.3" cy="542.5" r="3.5" fill="#000"/>
<ellipse cx="328.3" cy="543.7" rx="1.57" ry="0.88" fill="#fff"/>
<circle cx="346" cy="549.5" r="3" fill="#000"/>
<ellipse cx="346" cy="550.7" rx="1.35" ry="0.75" fill="#fff"/>
<circle cx="369.8" cy="564.5" r="3.8" fill="#000"/>
<ellipse cx="369.8" cy="565.7" rx="1.71" ry="0.95" fill="#fff"/>
<circle cx="388.2" cy="554.7" r="3.5" fill="#000"/>
<ellipse cx="388.2" cy="555.9000000000001" rx="1.57" ry="0.88" fill="#fff"/>
<circle cx="400.8" cy="551.6" r="3.5" fill="#000"/>
<ellipse cx="400.8" cy="552.8000000000001" rx="1.57" ry="0.88" fill="#fff"/>
<circle cx="422.8" cy="526.4" r="3.5" fill="#000"/>
<ellipse cx="422.8" cy="527.6" rx="1.57" ry="0.88" fill="#fff"/>
<circle cx="429" cy="518" r="3.2" fill="#000"/>
<ellipse cx="429" cy="519.2" rx="1.44" ry="0.80" fill="#fff"/>
<circle cx="314" cy="505" r="3.6" fill="#000"/>
<ellipse cx="314" cy="506.2" rx="1.62" ry="0.90" fill="#fff"/>
<circle cx="330" cy="493" r="3.6" fill="#000"/>
<ellipse cx="330" cy="494.2" rx="1.62" ry="0.90" fill="#fff"/>
<circle cx="349" cy="485" r="3.6" fill="#000"/>
<ellipse cx="349" cy="486.2" rx="1.62" ry="0.90" fill="#fff"/>
<circle cx="362" cy="478.5" r="3.5" fill="#000"/>
<ellipse cx="362" cy="479.7" rx="1.57" ry="0.88" fill="#fff"/>
<circle cx="306" cy="524" r="3.3" fill="#000"/>
<ellipse cx="306" cy="525.2" rx="1.48" ry="0.82" fill="#fff"/>
<circle cx="357" cy="557" r="3.2" fill="#000"/>
<ellipse cx="357" cy="558.2" rx="1.44" ry="0.80" fill="#fff"/>
<circle cx="409" cy="546" r="3.2" fill="#000"/>
<ellipse cx="409" cy="547.2" rx="1.44" ry="0.80" fill="#fff"/>
<ellipse cx="350.4" cy="508.9" rx="8.2" ry="5.2" transform="rotate(-8 350.4 508.9)" fill="#fff"/><circle cx="347.2" cy="511.2" r="2.8" fill="#000"/><circle cx="347.2" cy="511.6" r="1" fill="#fff"/>
<ellipse cx="394.5" cy="530.1" rx="8.2" ry="5.2" transform="rotate(-8 394.5 530.1)" fill="#fff"/><circle cx="390.6" cy="531.7" r="2.8" fill="#000"/><circle cx="390.6" cy="532.1" r="1" fill="#fff"/>
<path d="M380.3,514.4 L391.3,514.4 L385,522.2 L374,531.7 L366.1,534.8 L369.3,527 Z" fill="#fff" stroke="none"/>
<ellipse cx="367.7" cy="522.2" rx="2.2" ry="4" transform="rotate(30 367.7 522.2)" fill="#fff"/>
<rect x="339.2" y="538.15" width="5" height="4.5" transform="rotate(20 341.7 540.4)" fill="#fff"/>
<rect x="354.95" y="540.95" width="3.5" height="3.5" transform="rotate(20 356.7 542.7)" fill="#fff"/>
<rect x="359.9" y="529.4" width="3" height="3" transform="rotate(20 361.4 530.9)" fill="#fff"/>
<rect x="350.5" y="533.3" width="3" height="3" transform="rotate(20 352 534.8)" fill="#fff"/>
<rect x="325.75" y="533.0" width="2.5" height="2" transform="rotate(20 327 534)" fill="#fff"/>
<rect x="316.75" y="530.0" width="2.5" height="2" transform="rotate(20 318 531)" fill="#fff"/>
<path d="M385,493.9 L404,503.3" fill="none" stroke="#fff" stroke-width="2.0" stroke-linecap="round"/>
<path d="M372,486 L382,491" fill="none" stroke="#fff" stroke-width="0.9" stroke-linecap="round"/>
<path d="M410,506 L428,515" fill="none" stroke="#fff" stroke-width="0.9" stroke-linecap="round"/>
<path d="M416,522 L424,519" fill="none" stroke="#fff" stroke-width="1.0" stroke-linecap="round"/>
<path d="M376,508 L379,503" fill="none" stroke="#fff" stroke-width="1.2" stroke-linecap="round"/>
<path d="M333,510 L339,505" fill="none" stroke="#fff" stroke-width="0.9" stroke-linecap="round"/>
<path d="M360,498 L364,493" fill="none" stroke="#fff" stroke-width="0.9" stroke-linecap="round"/>
<path d="M402,540 L407,536" fill="none" stroke="#fff" stroke-width="0.9" stroke-linecap="round"/>
<path d="M377,549 L383,546" fill="none" stroke="#fff" stroke-width="1.0" stroke-linecap="round"/>
<path d="M323,524 L330,520" fill="none" stroke="#fff" stroke-width="0.9" stroke-linecap="round"/>
<rect x="348.3" y="567.2" width="4" height="6" rx="2" fill="#000"/><rect x="349.6" y="568.8" width="1.4" height="2.8" fill="#fff"/>
<rect x="404" y="580.2" width="4" height="6" rx="2" fill="#000"/><rect x="405.3" y="581.8" width="1.4" height="2.8" fill="#fff"/>
<g transform="translate(485.5,500.5) rotate(-6)"><rect x="-2.8" y="0" width="5.6" height="13" rx="2.5" fill="#000"/><path d="M-1,3 L-1,10" stroke="#fff" stroke-width="0.6"/></g>
<g transform="translate(503.5,571.5) rotate(-41)"><rect x="13" y="-5" width="19" height="10" fill="#000"/><path d="M20,-2 L29,-2 M20,1.5 L27,1.5" stroke="#fff" stroke-width="1"/><rect x="2" y="-6.5" width="12" height="13" rx="4" fill="#000"/><rect x="5" y="-4" width="2" height="3" fill="#fff"/><rect x="9" y="-4" width="2" height="3" fill="#fff"/><rect x="6" y="2" width="2" height="2.5" fill="#fff"/><rect x="-2" y="-2.5" width="5" height="5" fill="#000"/></g>
<ellipse cx="496.6" cy="584.2" rx="3.6" ry="2.1" transform="rotate(-35 496.6 584.2)" fill="#000"/>
<g transform="translate(512,666) rotate(-35)"><rect x="18" y="-5" width="12" height="10" rx="1.5" fill="#fff" stroke="#000" stroke-width="2"/><path d="M22,-2 L29,-2 M22,1.5 L29,1.5" stroke="#000" stroke-width="1.1"/><rect x="8" y="-6" width="11" height="12" rx="3" fill="#000"/><rect x="11" y="-3" width="2" height="6" fill="#fff"/><rect x="0" y="-2.8" width="9" height="5.6" rx="1" fill="#000"/><path d="M3,-2 L3,2 M6,-2 L6,2" stroke="#fff" stroke-width="0.8"/></g>
<g transform="translate(614.5,490) rotate(34)"><ellipse cx="0" cy="0" rx="21.5" ry="6.2" fill="#fff" stroke="#000" stroke-width="2.2"/><ellipse cx="1" cy="1.6" rx="18.0" ry="3.6" fill="none" stroke="#000" stroke-width="1.3"/><path d="M-6,5.4 L-2,4.7" stroke="#000" stroke-width="1.6"/></g>
<g transform="translate(651.2,507) rotate(34)"><ellipse cx="0" cy="0" rx="23" ry="6.2" fill="#fff" stroke="#000" stroke-width="2.2"/><ellipse cx="1" cy="1.6" rx="19.5" ry="3.6" fill="none" stroke="#000" stroke-width="1.3"/><path d="M-6,5.4 L-2,4.7" stroke="#000" stroke-width="1.6"/></g>
<g transform="translate(577.7,539.5) rotate(34)"><ellipse cx="0" cy="0" rx="22" ry="6.2" fill="#fff" stroke="#000" stroke-width="2.2"/><ellipse cx="1" cy="1.6" rx="18.5" ry="3.6" fill="none" stroke="#000" stroke-width="1.3"/><path d="M-6,5.4 L-2,4.7" stroke="#000" stroke-width="1.6"/></g>
<g transform="translate(617.5,561) rotate(34)"><ellipse cx="0" cy="0" rx="23.5" ry="6.4" fill="#fff" stroke="#000" stroke-width="2.2"/><ellipse cx="1" cy="1.6" rx="20.0" ry="3.8000000000000003" fill="none" stroke="#000" stroke-width="1.3"/><path d="M-6,5.6000000000000005 L-2,4.9" stroke="#000" stroke-width="1.6"/></g>
<g transform="translate(639,494) rotate(34)"><path d="M-5,-3 Q-4,-6 0,-5 Q4,-6 5,-3 L5,3 L-5,3 Z" fill="#000"/><circle cx="-4" cy="-1" r="2.4" fill="#000"/><circle cx="4" cy="-1" r="2.4" fill="#000"/></g>
<ellipse cx="633.5" cy="573" rx="3" ry="4" transform="rotate(34 633.5 573)" fill="#000"/>
<path d="M565,537 L562,541" stroke="#000" stroke-width="2"/><path d="M602,481 L599,485" stroke="#000" stroke-width="2"/>
<g transform="translate(594.5,515.5) rotate(34)"><ellipse cx="0" cy="-7" rx="22.5" ry="7.5" fill="#000"/><ellipse cx="0.5" cy="-4.2" rx="21.5" ry="6.2" fill="#fff"/><ellipse cx="0" cy="-1.2" rx="23.5" ry="7.8" fill="#000"/><ellipse cx="0.5" cy="1.6" rx="22" ry="6.5" fill="#fff"/><ellipse cx="0" cy="4.5" rx="23" ry="8.2" fill="#000"/></g>
<g transform="translate(634.3,535) rotate(34)"><ellipse cx="0" cy="-7" rx="22.5" ry="7.5" fill="#000"/><ellipse cx="0.5" cy="-4.2" rx="21.5" ry="6.2" fill="#fff"/><ellipse cx="0" cy="-1.2" rx="23.5" ry="7.8" fill="#000"/><ellipse cx="0.5" cy="1.6" rx="22" ry="6.5" fill="#fff"/><ellipse cx="0" cy="4.5" rx="23" ry="8.2" fill="#000"/></g>
<g transform="translate(250.8,575.6) rotate(-12.33)"><rect x="-2.4" y="0" width="4.8" height="27.6" rx="1" fill="#fff" stroke="#000" stroke-width="1.3"/><line x1="-2.4" y1="8.3" x2="2.4" y2="8.3" stroke="#000" stroke-width="1"/><ellipse cx="0" cy="0" rx="4.3" ry="4.085" fill="#000"/></g>
<g transform="translate(227.8,592.4) rotate(-11.78)"><rect x="-2.4" y="0" width="4.8" height="28.9" rx="1" fill="#fff" stroke="#000" stroke-width="1.3"/><line x1="-2.4" y1="8.7" x2="2.4" y2="8.7" stroke="#000" stroke-width="1"/><ellipse cx="0" cy="0" rx="4.3" ry="4.085" fill="#000"/></g>
<g transform="translate(227,664.7) rotate(18)"><rect x="2" y="-2.5" width="16" height="5" fill="#fff" stroke="#000" stroke-width="1.4"/><rect x="12" y="-3" width="4" height="6" fill="#000"/><ellipse cx="0" cy="0" rx="5" ry="6" fill="#000"/></g>
<ellipse cx="264" cy="683.1" rx="5.5" ry="6.5" transform="rotate(15 264 683.1)" fill="#000"/>
<ellipse cx="222.9" cy="745.8" rx="4" ry="3" transform="rotate(0 222.9 745.8)" fill="#000"/>
<ellipse cx="238.1" cy="736.2" rx="3.2" ry="4.3" transform="rotate(25 238.1 736.2)" fill="#000"/>
<ellipse cx="239.2" cy="754" rx="4" ry="3.2" transform="rotate(0 239.2 754)" fill="#000"/>
<ellipse cx="255.6" cy="745.2" rx="3.2" ry="4.4" transform="rotate(20 255.6 745.2)" fill="#000"/>
<ellipse cx="265.7" cy="766.8" rx="4" ry="3" transform="rotate(0 265.7 766.8)" fill="#000"/>
<ellipse cx="280.9" cy="757.6" rx="3.5" ry="4" transform="rotate(35 280.9 757.6)" fill="#000"/>
<ellipse cx="282" cy="775" rx="4" ry="3.3" transform="rotate(0 282 775)" fill="#000"/>
<ellipse cx="298.9" cy="766.6" rx="3.5" ry="4.4" transform="rotate(30 298.9 766.6)" fill="#000"/>
<path d="M284,758 L287,760 M301,768 L304,771" stroke="#000" stroke-width="1"/>
<line x1="162.3" y1="762.8" x2="166.9" y2="772.4" stroke="#000" stroke-width="3.8" stroke-linecap="round"/>
<line x1="163.9" y1="766.8" x2="166.6" y2="771.6" stroke="#fff" stroke-width="1"/>
<circle cx="162.3" cy="762.8" r="4.5" fill="#000"/>
<line x1="183.4" y1="773.1" x2="187.5" y2="782.5" stroke="#000" stroke-width="3.8" stroke-linecap="round"/>
<line x1="185.0" y1="777.1" x2="187.2" y2="781.7" stroke="#fff" stroke-width="1"/>
<circle cx="183.4" cy="773.1" r="4.5" fill="#000"/>
<line x1="156.2" y1="785.4" x2="161.3" y2="795" stroke="#000" stroke-width="3.8" stroke-linecap="round"/>
<line x1="157.79999999999998" y1="789.4" x2="161.0" y2="794.2" stroke="#fff" stroke-width="1"/>
<circle cx="156.2" cy="785.4" r="4.5" fill="#000"/>
<path d="M163.3,811.6 L164.4,800.3 L169.5,789 L174.6,784.9 L180.8,788 L189,789 L198.3,797.2 L200.3,802.4 L191.1,809.5 L176.7,815.7 L166.4,816.7 Z" fill="#000" stroke="#000" stroke-width="1.5" stroke-linejoin="round"/>
<circle cx="173.5" cy="788.5" r="4.6" fill="#000"/><circle cx="167" cy="813" r="4" fill="#000"/><circle cx="198" cy="800" r="3.5" fill="#000"/>
<ellipse cx="185" cy="797" rx="4.6" ry="6" fill="#fff"/><path d="M183,791.8 Q178.5,797 183,802.3 Q181.5,797 183,791.8 Z" fill="#000" stroke="#000" stroke-width="2.2"/>
<path d="M171,792 L173,796 M169,801 L174,799 M167,810 L172,812" stroke="#fff" stroke-width="1"/>
<ellipse cx="192.1" cy="828" rx="14" ry="11.5" fill="#000"/><ellipse cx="196.5" cy="840.5" rx="9.8" ry="7.3" fill="#000"/>
<path d="M193.5,825 L197,824 L196,831 L194,831 Z" fill="#fff"/>
<path d="M184,834 Q192,840 202,834" fill="none" stroke="#fff" stroke-width="0.6"/>
<g transform="translate(252.7,907) rotate(-43.0)"><rect x="0" y="-1.9" width="28.3" height="3.8" rx="1.5" fill="#fff" stroke="#000" stroke-width="1.3"/><rect x="18.9" y="-2.2" width="3" height="4.4" fill="#000"/><circle cx="1" cy="0" r="2.3" fill="#000"/></g>
<g transform="translate(282.5,912.5) rotate(-46.1)"><rect x="0" y="-1.9" width="19.0" height="3.8" rx="1.5" fill="#fff" stroke="#000" stroke-width="1.3"/><rect x="9.9" y="-2.2" width="3" height="4.4" fill="#000"/><circle cx="1" cy="0" r="2.3" fill="#000"/></g>
<g transform="translate(301.7,931.7) rotate(-44.8)"><rect x="0" y="-1.9" width="18.6" height="3.8" rx="1.5" fill="#fff" stroke="#000" stroke-width="1.3"/><rect x="9.7" y="-2.2" width="3" height="4.4" fill="#000"/><circle cx="1" cy="0" r="2.3" fill="#000"/></g>
<path d="M258,898 L262,892 L266,895 L262,901 Z" fill="#000"/>
<path d="M259,895 L265,889" stroke="#000" stroke-width="1"/>
<path d="M361.1,909.5 Q363,905 367.1,903.5 L369.2,894.4 Q371,891 373.2,891.4 L379.3,893.4 L391.4,884.3 L390.4,877.2 Q392,874 395.5,874.2 L405.6,874.2 L419.8,866.6 L434,873.2 L436,876.2 L451,882.4 L463.3,891 L472,896.6 L481.9,902.2 L494.3,905.9 L509.1,912.1 L517.8,915.8 Q523,918 521.5,922 L516.5,926.9 L506.6,934.4 L494.3,944.3 L480.6,951.7 L478.2,956.6 L467,960.3 L454.7,961.6 L447.2,956.6 L444.8,950.4 L432.4,944.3 L420,943 L413.7,947 L408.6,943 L407.6,930.9 L396.5,925.8 L388.4,926.8 L379.3,922.8 L378.3,918.7 Z" fill="#fff" stroke="#000" stroke-width="2.3" stroke-linejoin="round"/>
<path d="M363.5,908.5 Q365,906 368.5,905 L370.8,895.8 L373.5,893.5 L379.5,895.6 L393.2,885 L392.3,878 L395.8,876 L405.8,876 L419.8,868.8 L433,875 L434.5,877.8" fill="none" stroke="#fff" stroke-width="0.8"/>
<path d="M390,913 Q400,890 425,885" fill="none" stroke="#000" stroke-width="1.3"/>
<ellipse cx="429.4" cy="906" rx="27.5" ry="17.5" transform="rotate(-3 429.4 906)" fill="#fff" stroke="#000" stroke-width="2"/>
<ellipse cx="471.4" cy="927.8" rx="27.8" ry="17.6" transform="rotate(-4 471.4 927.8)" fill="#fff" stroke="#000" stroke-width="2"/>
<ellipse cx="427.9" cy="880.2" rx="3.5" ry="2.3" transform="rotate(-12 427.9 880.2)" fill="#fff" stroke="#000" stroke-width="1.6"/>
<ellipse cx="386.4" cy="909.6" rx="3.3" ry="2.3" transform="rotate(-12 386.4 909.6)" fill="#fff" stroke="#000" stroke-width="1.6"/>
<ellipse cx="386.4" cy="918.7" rx="4.8" ry="3.6" transform="rotate(-12 386.4 918.7)" fill="#fff" stroke="#000" stroke-width="1.6"/>
<ellipse cx="399.5" cy="920.7" rx="3.8" ry="2.3" transform="rotate(-12 399.5 920.7)" fill="#fff" stroke="#000" stroke-width="1.6"/>
<ellipse cx="429.4" cy="933.4" rx="3.8" ry="2.5" transform="rotate(-12 429.4 933.4)" fill="#fff" stroke="#000" stroke-width="1.6"/>
<ellipse cx="415.7" cy="944" rx="4" ry="2.8" transform="rotate(-12 415.7 944)" fill="#fff" stroke="#000" stroke-width="1.6"/>
<ellipse cx="427.4" cy="879.9" rx="3.5" ry="2.5" transform="rotate(-12 427.4 879.9)" fill="#fff" stroke="#000" stroke-width="1.6"/>
<ellipse cx="472" cy="900.9" rx="3.8" ry="2.4" transform="rotate(-12 472 900.9)" fill="#fff" stroke="#000" stroke-width="1.6"/>
<ellipse cx="515.3" cy="923.2" rx="4.8" ry="3.3" transform="rotate(-12 515.3 923.2)" fill="#fff" stroke="#000" stroke-width="1.6"/>
<ellipse cx="429.3" cy="933.1" rx="3.8" ry="2.5" transform="rotate(-12 429.3 933.1)" fill="#fff" stroke="#000" stroke-width="1.6"/>
<ellipse cx="460.8" cy="955.4" rx="4.8" ry="3.2" transform="rotate(-12 460.8 955.4)" fill="#fff" stroke="#000" stroke-width="1.6"/>
<ellipse cx="472.6" cy="954.8" rx="3.8" ry="2.5" transform="rotate(-12 472.6 954.8)" fill="#fff" stroke="#000" stroke-width="1.6"/>
<rect x="436.0" y="877.8000000000001" width="4" height="2.8" rx="1" transform="rotate(20 438 879.2)" fill="#000"/>
<rect x="419.55" y="885.3" width="4.5" height="3" rx="1" transform="rotate(20 421.8 886.8)" fill="#000"/>
<rect x="394.25" y="907.35" width="3.5" height="3.5" rx="1" transform="rotate(20 396 909.1)" fill="#000"/>
<rect x="409.2" y="924.9" width="5" height="2.8" rx="1" transform="rotate(20 411.7 926.3)" fill="#000"/>
<rect x="436.85" y="878.05" width="3.5" height="2.5" rx="1" transform="rotate(20 438.6 879.3)" fill="#000"/>
<rect x="446.75" y="878.05" width="3.5" height="2.5" rx="1" transform="rotate(20 448.5 879.3)" fill="#000"/>
<rect x="449.7" y="887.1" width="5" height="3" rx="1" transform="rotate(20 452.2 888.6)" fill="#000"/>
<rect x="420.5" y="886.05" width="4" height="2.5" rx="1" transform="rotate(20 422.5 887.3)" fill="#000"/>
<rect x="492.4" y="908.7" width="5" height="3" rx="1" transform="rotate(20 494.9 910.2)" fill="#000"/>
<rect x="514.5" y="914.3" width="4" height="3" rx="1" transform="rotate(20 516.5 915.8)" fill="#000"/>
<rect x="502.7" y="926.45" width="3" height="3.5" rx="1" transform="rotate(20 504.2 928.2)" fill="#000"/>
<rect x="441.5" y="940.4" width="4" height="2.8" rx="1" transform="rotate(20 443.5 941.8)" fill="#000"/>
<rect x="453.4" y="946.75" width="5" height="2.5" rx="1" transform="rotate(20 455.9 948)" fill="#000"/>
<rect x="472.5" y="946.75" width="4" height="2.5" rx="1" transform="rotate(20 474.5 948)" fill="#000"/>
<rect x="446.3" y="953.65" width="3" height="3.5" rx="1" transform="rotate(20 447.8 955.4)" fill="#000"/>
<ellipse cx="395.5" cy="878.2" rx="2.6" ry="2" fill="#000"/>
<ellipse cx="373.2" cy="894.4" rx="2.6" ry="2" fill="#000"/>
<ellipse cx="389.4" cy="926.8" rx="2.6" ry="2" fill="#000"/>
<ellipse cx="463.3" cy="907.7" rx="2.6" ry="2" fill="#000"/>
<rect x="388.5" y="940.5" width="9" height="11" rx="3" fill="#fff" stroke="#000" stroke-width="2"/>
<ellipse cx="393" cy="943" rx="4.5" ry="2.5" fill="none" stroke="#000" stroke-width="1.3"/>
<rect x="516.4" y="952.5" width="9" height="11" rx="3" fill="#fff" stroke="#000" stroke-width="2"/>
<ellipse cx="520.9" cy="955" rx="4.5" ry="2.5" fill="none" stroke="#000" stroke-width="1.3"/>
<ellipse cx="535.1" cy="877.2" rx="3.5" ry="4.3" transform="rotate(30 535.1 877.2)" fill="none" stroke="#000" stroke-width="2"/>
<g transform="translate(561,889.8) rotate(25)"><rect x="-9" y="-3" width="7" height="6" fill="#000"/><ellipse cx="0" cy="0" rx="5" ry="6" fill="#fff" stroke="#000" stroke-width="2.2"/><ellipse cx="0.5" cy="0" rx="2" ry="3" fill="#000"/></g>
<g transform="translate(611.3,793.2) rotate(-10.58)"><rect x="-3.3" y="3" width="6.6" height="67.8" rx="1.8" fill="#fff" stroke="#000" stroke-width="1.8"/><line x1="-3.2" y1="64.8" x2="3.2" y2="64.8" stroke="#000" stroke-width="1.1"/><rect x="-6.3" y="-6" width="12.6" height="11.5" rx="5.5" fill="#000"/><path d="M-4.5,2.5 Q0,4 4.5,2.5" fill="none" stroke="#fff" stroke-width="1"/></g>
<g transform="translate(651.9,761.7) rotate(-10.78)"><rect x="-3.3" y="3" width="6.6" height="67.5" rx="1.8" fill="#fff" stroke="#000" stroke-width="1.8"/><line x1="-3.2" y1="64.5" x2="3.2" y2="64.5" stroke="#000" stroke-width="1.1"/><rect x="-6.3" y="-6" width="12.6" height="11.5" rx="5.5" fill="#000"/><path d="M-4.5,2.5 Q0,4 4.5,2.5" fill="none" stroke="#fff" stroke-width="1"/></g>
<g transform="translate(695.6,783) rotate(-11.20)"><rect x="-3.3" y="3" width="6.6" height="67.5" rx="1.8" fill="#fff" stroke="#000" stroke-width="1.8"/><line x1="-3.2" y1="64.5" x2="3.2" y2="64.5" stroke="#000" stroke-width="1.1"/><rect x="-6.3" y="-6" width="12.6" height="11.5" rx="5.5" fill="#000"/><path d="M-4.5,2.5 Q0,4 4.5,2.5" fill="none" stroke="#fff" stroke-width="1"/></g>
<g transform="translate(738.1,805) rotate(-10.80)"><rect x="-3.3" y="3" width="6.6" height="68.0" rx="1.8" fill="#fff" stroke="#000" stroke-width="1.8"/><line x1="-3.2" y1="65.0" x2="3.2" y2="65.0" stroke="#000" stroke-width="1.1"/><rect x="-6.3" y="-6" width="12.6" height="11.5" rx="5.5" fill="#000"/><path d="M-4.5,2.5 Q0,4 4.5,2.5" fill="none" stroke="#fff" stroke-width="1"/></g>
<g transform="translate(653.3,815.1) rotate(-10.51)"><rect x="-3.3" y="3" width="6.6" height="67.2" rx="1.8" fill="#fff" stroke="#000" stroke-width="1.8"/><line x1="-3.2" y1="64.2" x2="3.2" y2="64.2" stroke="#000" stroke-width="1.1"/><rect x="-6.3" y="-6" width="12.6" height="11.5" rx="5.5" fill="#000"/><path d="M-4.5,2.5 Q0,4 4.5,2.5" fill="none" stroke="#fff" stroke-width="1"/></g>
<g transform="translate(696.8,835.7) rotate(-10.72)"><rect x="-3.3" y="3" width="6.6" height="67.9" rx="1.8" fill="#fff" stroke="#000" stroke-width="1.8"/><line x1="-3.2" y1="64.9" x2="3.2" y2="64.9" stroke="#000" stroke-width="1.1"/><rect x="-6.3" y="-6" width="12.6" height="11.5" rx="5.5" fill="#000"/><path d="M-4.5,2.5 Q0,4 4.5,2.5" fill="none" stroke="#fff" stroke-width="1"/></g>
<ellipse cx="627.8" cy="881.7" rx="7.2" ry="5" fill="#000"/><ellipse cx="627.8" cy="881.7" rx="3.8" ry="2" fill="none" stroke="#fff" stroke-width="0.6"/><ellipse cx="627.8" cy="881.7" rx="1.2" ry="0.6" fill="#fff"/>
<ellipse cx="669.6" cy="849.9" rx="7.2" ry="5" fill="#000"/><ellipse cx="669.6" cy="849.9" rx="3.8" ry="2" fill="none" stroke="#fff" stroke-width="0.6"/><ellipse cx="669.6" cy="849.9" rx="1.2" ry="0.6" fill="#fff"/>
<ellipse cx="669.6" cy="903" rx="7.2" ry="5" fill="#000"/><ellipse cx="669.6" cy="903" rx="3.8" ry="2" fill="none" stroke="#fff" stroke-width="0.6"/><ellipse cx="669.6" cy="903" rx="1.2" ry="0.6" fill="#fff"/>
<ellipse cx="712.8" cy="870.6" rx="7.2" ry="5" fill="#000"/><ellipse cx="712.8" cy="870.6" rx="3.8" ry="2" fill="none" stroke="#fff" stroke-width="0.6"/><ellipse cx="712.8" cy="870.6" rx="1.2" ry="0.6" fill="#fff"/>
<ellipse cx="714" cy="924.3" rx="7.2" ry="5" fill="#000"/><ellipse cx="714" cy="924.3" rx="3.8" ry="2" fill="none" stroke="#fff" stroke-width="0.6"/><ellipse cx="714" cy="924.3" rx="1.2" ry="0.6" fill="#fff"/>
<ellipse cx="754.7" cy="893.1" rx="7.2" ry="5" fill="#000"/><ellipse cx="754.7" cy="893.1" rx="3.8" ry="2" fill="none" stroke="#fff" stroke-width="0.6"/><ellipse cx="754.7" cy="893.1" rx="1.2" ry="0.6" fill="#fff"/>
<polygon points="391,677 396,677 417.8,688 419,694.8 484,725.7 491.4,733.2 495,746.7 495,771.5 497.2,796.2 490.5,803 472.5,813.1 453.4,825.5 444.4,837.9 429.7,834.5 416.2,821 407.1,821.1 396.8,821.1 386.6,823.1 379.4,822.1 378.4,813.9 369.1,808.8 363,800.5 353.7,795.4 345.5,789.3 338.3,787.2 336.3,781 325,743.1 316.8,737.6 316,734.2 327.6,722.5 331.5,726.5 334.5,727 338.5,725 339.2,719.5 340.2,714.5 361.7,696.3 365,700.5 369,701 373,700 374.5,694.5 375.5,688" fill="#fff" stroke="#000" stroke-width="2.4" stroke-linejoin="round"/>
<path d="M317.5,734.5 L327.8,724.2 Q331,729 334.5,728.8 Q339.5,727.5 340.5,720.5 L341.5,715.5 L361.8,698 Q365,702.5 369,702.8 Q374,702.5 375.8,695.5 L376.8,689 L390,679 Q392.5,677.8 395,678.2 L417,689" fill="none" stroke="#000" stroke-width="3.0" stroke-linejoin="round"/>
<path d="M317.5,734.5 L327.8,724.2 Q331,729 334.5,728.8 Q339.5,727.5 340.5,720.5 L341.5,715.5 L361.8,698 Q365,702.5 369,702.8 Q374,702.5 375.8,695.5 L376.8,689 L390,679 Q392.5,677.8 395,678.2 L417,689" fill="none" stroke="#fff" stroke-width="0.75" stroke-linejoin="round"/>
<path d="M319,737.5 L330,738 L336,732.5 L342,731 L350.5,723.9 L354,721.5 L358,724 L367,715.5 L365,713 L372,708.5 L376,711 L381.2,707.4 L388,703" fill="none" stroke="#000" stroke-width="2.4" stroke-linejoin="round"/>
<path d="M351,723 L364,714.5 L366,717.5 L353,726 Z" fill="#fff" stroke="#000" stroke-width="1.8"/>
<path d="M371,709 L379,703.5 L381,706.5 L373,712 Z" fill="#fff" stroke="#000" stroke-width="1.8"/>
<path d="M335,736.5 L343,731.5 L344,739 Z" fill="#fff" stroke="#000" stroke-width="1.8"/>
<path d="M387.5,683 L396,680 L401,688 L400,706 L389,708 Z" fill="#000"/>
<path d="M391.5,685 L391,704 M395,684 L394.5,703" stroke="#fff" stroke-width="0.9"/>
<ellipse cx="407.3" cy="693" rx="2.2" ry="1.6" fill="none" stroke="#000" stroke-width="1.2"/>
<path d="M401,688 L417,689 M404,684 L402,700" fill="none" stroke="#000" stroke-width="1.2"/>
<path d="M346,749 L349.7,723.5 L356,722.5 L355,749 Z" fill="#000"/>
<path d="M367,725.5 Q356,731 363,739 Q366,743 362,749" fill="none" stroke="#000" stroke-width="3.2"/>
<path d="M377,725 Q369,733 375,741 Q378,746 374,752" fill="none" stroke="#000" stroke-width="3.2"/>
<path d="M383,728 Q380,738 386,744 Q389,749 386,757" fill="none" stroke="#000" stroke-width="3"/>
<path d="M336,742 Q342,738 346,745" fill="none" stroke="#000" stroke-width="3"/>
<path d="M330,741 L346,748" stroke="#000" stroke-width="2.5"/>
<path d="M357,735 L368,733" stroke="#000" stroke-width="2.2"/>
<path d="M362,748 L376,745 L381,752 L370,757 Z" fill="#000"/>
<path d="M388,748 Q396,744 403,752 L397,764 L390,762 Z" fill="#000"/>
<path d="M358,741 L368,744" stroke="#000" stroke-width="1.5"/>
<path d="M400,707 L417,700 L424,706 L421,745 L414.4,778.5 L401,773 L400,735 Z" fill="#000"/>
<path d="M404,712 Q411,710 418.4,719.6 L414.5,721 Q411,715 403,715 Z" fill="#fff" stroke="none"/>
<path d="M410.2,722 Q417,726 417.4,734 L414,733 Q413,728 409.5,724.5 Z" fill="#fff" stroke="none"/>
<path d="M405,742 L412,738 L410,752 L404,754 Z" fill="#fff" stroke="none"/>
<path d="M414.7,737 L419,738 L418,746 L414,745 Z" fill="#fff" stroke="none"/>
<path d="M419,695 L484,726 L486,733 L480,737 L416,706 Z" fill="#000"/>
<path d="M428.0,702.0 L429.8,709.0" stroke="#fff" stroke-width="2.6"/>
<path d="M434.2,704.95 L436.0,711.95" stroke="#fff" stroke-width="2.6"/>
<path d="M440.4,707.9 L442.2,714.9" stroke="#fff" stroke-width="2.6"/>
<path d="M446.6,710.85 L448.40000000000003,717.85" stroke="#fff" stroke-width="2.6"/>
<path d="M452.8,713.8 L454.6,720.8" stroke="#fff" stroke-width="2.6"/>
<path d="M459.0,716.75 L460.8,723.75" stroke="#fff" stroke-width="2.6"/>
<path d="M465.2,719.7 L467.0,726.7" stroke="#fff" stroke-width="2.6"/>
<path d="M420,696.5 L483,726.5" stroke="#fff" stroke-width="1.1"/>
<path d="M417,704 L484,733 L490,738 L475,745.1 L445.7,762.3 L421,772 L421,745 Z" fill="#000"/>
<path d="M451.8,729.5 Q460,733 461.7,741.8 L457.5,741 Q456,735 450.5,732 Z" fill="#fff" stroke="none"/>
<path d="M454.3,744.3 L465.4,747 L463,752 L455,751 Z" fill="#fff" stroke="none"/>
<path d="M441,716 Q447,719 448,727 L445,727 Q444,722 440,719 Z" fill="#fff" stroke="none"/>
<path d="M427,722 Q432,724 433,731 L430,731 Q429,727 426,724 Z" fill="#fff" stroke="none"/>
<path d="M423,736 Q428,740 428,747 L424,746 Z" fill="#fff" stroke="none"/>
<path d="M474,744 L482,739 L479,745 Z" fill="#fff" stroke="none"/>
<path d="M466,734 Q470,738 470,744 L467,744 Z" fill="#fff" stroke="none"/>
<path d="M434,713 L440,711 L438,716 Z" fill="#fff" stroke="none"/>
<path d="M470,738 L476,733 L478,742 Z" fill="#fff" stroke="none"/>
<path d="M433,730 Q440,735 441,742" fill="none" stroke="#fff" stroke-width="1"/>
<path d="M419,695 L484,726 L486,733 L480,737 L416,706 Z" fill="#000"/>
<path d="M428.0,702.0 L429.8,709.0" stroke="#fff" stroke-width="2.6"/>
<path d="M434.2,704.95 L436.0,711.95" stroke="#fff" stroke-width="2.6"/>
<path d="M440.4,707.9 L442.2,714.9" stroke="#fff" stroke-width="2.6"/>
<path d="M446.6,710.85 L448.40000000000003,717.85" stroke="#fff" stroke-width="2.6"/>
<path d="M452.8,713.8 L454.6,720.8" stroke="#fff" stroke-width="2.6"/>
<path d="M459.0,716.75 L460.8,723.75" stroke="#fff" stroke-width="2.6"/>
<path d="M465.2,719.7 L467.0,726.7" stroke="#fff" stroke-width="2.6"/>
<path d="M420,696.5 L483,726.5" stroke="#fff" stroke-width="1.1"/>
<ellipse cx="392" cy="727.5" rx="9.5" ry="5.5" fill="#000"/>
<ellipse cx="392" cy="727.0" rx="7" ry="3.3" fill="none" stroke="#fff" stroke-width="1.2"/>
<ellipse cx="392" cy="729.0" rx="6" ry="2.3" fill="none" stroke="#fff" stroke-width="1"/>
<path d="M382,724.5 Q392,717.5 402,724.5" fill="none" stroke="#000" stroke-width="1.3"/>
<ellipse cx="435.5" cy="748" rx="9.5" ry="5.5" fill="#000"/>
<ellipse cx="435.5" cy="747.5" rx="7" ry="3.3" fill="none" stroke="#fff" stroke-width="1.2"/>
<ellipse cx="435.5" cy="749.5" rx="6" ry="2.3" fill="none" stroke="#fff" stroke-width="1"/>
<path d="M425.5,745 Q435.5,738 445.5,745" fill="none" stroke="#000" stroke-width="1.3"/>
<path d="M317,737.5 L349.6,749.5 L401,774 L414.4,778.5 L445.7,762.3 L461.9,752.2 L475,745.1 L492,737" fill="none" stroke="#000" stroke-width="3.2" stroke-linejoin="round"/>
<path d="M317,737.5 L349.6,749.5 L401,774 L414.4,778.5 L445.7,762.3 L461.9,752.2 L475,745.1 L492,737" fill="none" stroke="#fff" stroke-width="0.8"/>
<ellipse cx="355.3" cy="752.2" rx="4.5" ry="2.8" fill="#000" stroke="#fff" stroke-width="0.9"/>
<ellipse cx="401.7" cy="775" rx="4.6" ry="3" fill="#000" stroke="#fff" stroke-width="0.9"/>
<path d="M317,738 L349.6,750.5 L344,770 L338.3,787.2 L336.3,781 L325,743.1 Z" fill="#000"/>
<path d="M331.7,758 L342,762 L342.5,767.5 L333,764 Z" fill="#fff" stroke="none"/>
<path d="M335.6,747 L345,752 L344,756.5 L336.5,752 Z" fill="#fff" stroke="none"/>
<path d="M335.8,768.5 L338.8,779.5" stroke="#fff" stroke-width="1.6"/>
<path d="M339.6,769.3 L342.6,780.3" stroke="#fff" stroke-width="1.6"/>
<path d="M343.40000000000003,770.1 L346.40000000000003,781.1" stroke="#fff" stroke-width="1.6"/>
<path d="M318,739 L337,785" stroke="#fff" stroke-width="1"/>
<path d="M349.6,751 L401,775.5 L414.4,780 L420,792 L418,806 L405,812 L386.6,823.1 L379.4,822.1 L378.4,813.9 L369.1,808.8 L363,800.5 L353.7,795.4 L345.5,789.3 L338.3,787.2 L344,770 Z" fill="#000"/>
<path d="M339,786 L362,797" stroke="#fff" stroke-width="1"/>
<ellipse cx="380.4" cy="792.3" rx="11.5" ry="8.5" transform="rotate(15 380.4 792.3)" fill="#fff"/>
<ellipse cx="381.5" cy="794" rx="8.5" ry="5.5" transform="rotate(15 381.5 794)" fill="none" stroke="#000" stroke-width="1.4"/>
<ellipse cx="382.5" cy="796" rx="6" ry="3.5" transform="rotate(15 382.5 796)" fill="none" stroke="#000" stroke-width="1.4"/>
<ellipse cx="411" cy="797" rx="8" ry="9" fill="#fff"/>
<ellipse cx="411" cy="797" rx="5.5" ry="6.5" fill="none" stroke="#000" stroke-width="1.4"/><circle cx="411" cy="797" r="2.5" fill="#000"/>
<path d="M400,788 Q398,805 412,810" fill="none" stroke="#000" stroke-width="1.2"/>
<path d="M356,770 Q364,762 372,768 L366,776 Z" fill="#fff" stroke="none"/>
<path d="M388,780 L396,784 L392,788 Z" fill="#fff" stroke="none"/>
<path d="M381.0,804 L382.0,819" stroke="#fff" stroke-width="1.6"/>
<path d="M384.6,804 L385.6,819" stroke="#fff" stroke-width="1.6"/>
<path d="M388.2,804 L389.2,819" stroke="#fff" stroke-width="1.6"/>
<path d="M391.8,804 L392.8,819" stroke="#fff" stroke-width="1.6"/>
<path d="M395.4,804 L396.4,819" stroke="#fff" stroke-width="1.6"/>
<path d="M399.0,804 L400.0,819" stroke="#fff" stroke-width="1.6"/>
<path d="M434,771.5 L472.4,753.4" stroke="#000" stroke-width="3"/>
<path d="M446.5,781.1 L474.3,765.8" stroke="#000" stroke-width="3"/>
<path d="M451.3,789.5 L482,772" stroke="#000" stroke-width="4"/>
<path d="M455,806 L490,785" stroke="#000" stroke-width="2.5"/>
<path d="M444.4,836 L453.4,823.5 L472.5,811 L490.5,801 L497,795" fill="none" stroke="#000" stroke-width="5"/>
<path d="M450.4,757 L463,752 L463.5,768 L451,773 Z" fill="#000"/>
<path d="M452.5,762 L461,758" stroke="#fff" stroke-width="0.8"/>
<path d="M420,780 L433,774 L438,792 L443,821 L436,826 L425,818 L418,806 Z" fill="#000"/>
<path d="M433.2,776 L436.5,775 L438.9,789 L435.5,789.7 Z" fill="#fff" stroke="none"/>
<path d="M424,806 L432,809 L429,815 L421,812 Z" fill="#fff" stroke="none"/>
<circle cx="442.7" cy="793.5" r="6.5" fill="#000"/><ellipse cx="442.7" cy="794.5" rx="2" ry="1.2" fill="#fff"/>
<circle cx="469.5" cy="790.7" r="3.5" fill="#000"/>
<path d="M447,803 L449,821" stroke="#000" stroke-width="4"/>
<path d="M482,738 L495,747 L495,771.5 L497,796 L490,801 L486,772 Z" fill="#000"/>
<path d="M486.5,773 L491,772 L493.5,794.5 L489,795.5 Z" fill="#fff" stroke="none"/>
<path d="M474.3,789.7 L483.8,775.4" stroke="#000" stroke-width="1.5"/>
<path d="M470,795 L478,792 L476,806 L468,810 Z" fill="#000"/>
<path d="M405,812 Q420,826 440,833" fill="none" stroke="#000" stroke-width="3"/>
<path d="M416,818 L430,826 L436,833 L429.7,834.5 L416.2,821 Z" fill="#000"/>
<path d="M460,795 L467,800" stroke="#000" stroke-width="1.2"/>
<path d="M418,806 L443,821 L453.4,823.5 L444.4,836 L429.7,834.5 L416.2,821 Z" fill="#000"/>
<path d="M430,822 L440,826 L437,830 L428,826 Z" fill="#fff" stroke="none"/>
<path d="M452,812 L470,801 L476,806 L458,818 Z" fill="#000"/>
<path d="M458,770 L466,766 L470,772 L462,776 Z" fill="#000"/>
<polyline points="514.5,785.2 531.0,785.2" fill="none" stroke="#000" stroke-width="1.2"/>
</svg></body></html>
